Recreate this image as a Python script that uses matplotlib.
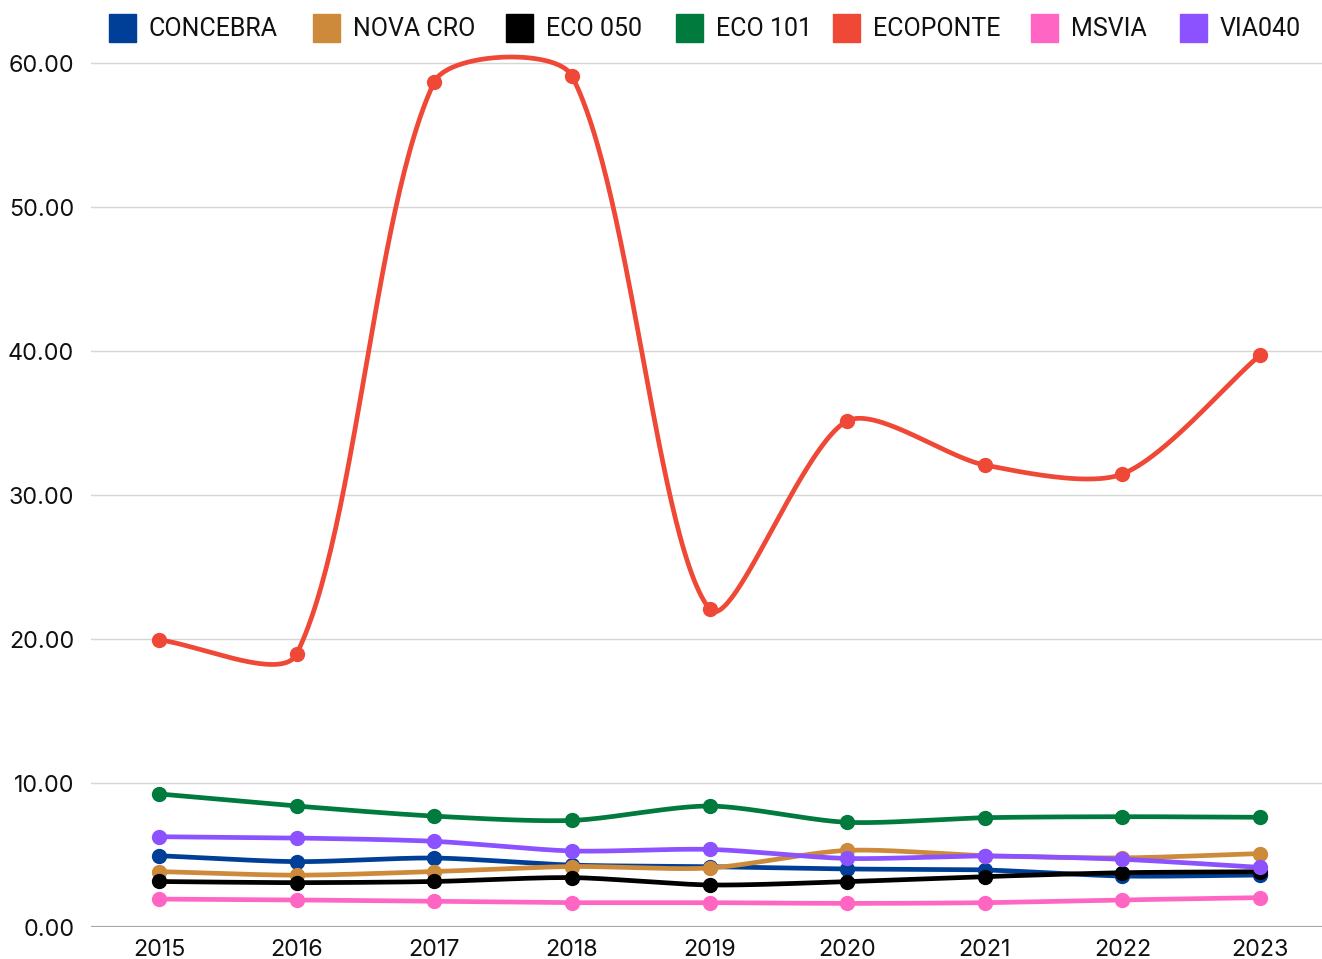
import numpy as np
import matplotlib
matplotlib.use("Agg")
import matplotlib.pyplot as plt
from matplotlib.patches import Rectangle
from matplotlib.ticker import FuncFormatter

years = ["2015", "2016", "2017", "2018", "2019", "2020", "2021", "2022", "2023"]
concebra = [4.95, 4.54, 4.79, 4.30, 4.19, 4.03, 3.96, 3.54, 3.61]
nova_cro = [3.85, 3.60, 3.85, 4.20, 4.10, 5.32, 4.95, 4.80, 5.10]
eco050 = [3.16, 3.08, 3.16, 3.43, 2.92, 3.15, 3.50, 3.77, 3.84]
eco101 = [9.24, 8.40, 7.70, 7.40, 8.40, 7.27, 7.59, 7.66, 7.62]
ecoponte = [19.93, 18.96, 58.68, 59.10, 22.08, 35.14, 32.08, 31.46, 39.72]
msvia = [1.94, 1.88, 1.78, 1.69, 1.69, 1.64, 1.69, 1.88, 2.04]
via040 = [6.27, 6.18, 5.95, 5.28, 5.39, 4.76, 4.93, 4.70, 4.14]

series_names = ["CONCEBRA", "NOVA CRO", "ECO 050", "ECO 101", "ECOPONTE", "MSVIA", "VIA040"]
series_values = [concebra, nova_cro, eco050, eco101, ecoponte, msvia, via040]
colors = ["#003f98", "#cc8a3a", "#000000", "#007a3d", "#ef4836", "#ff66c4", "#8c52ff"]

plt.rcParams['font.family'] = ['Inter', 'Roboto', 'DejaVu Sans']

W, H = 1322, 959
fig = plt.figure(figsize=(W / 100, H / 100), dpi=100)
ax = fig.add_axes([91 / W, 1 - 927 / H, (W - 91) / W, (927 - 40) / H])

x = np.arange(len(years))
ax.set_xlim(-0.494, len(years) - 1 + 0.45)
ax.set_ylim(0, (927 - 40) / 14.4)
ax.set_yticks([0, 10, 20, 30, 40, 50, 60])
ax.yaxis.set_major_formatter(FuncFormatter(lambda v, p: f"{v:.2f}"))
ax.set_xticks(x)
ax.set_xticklabels(years)
ax.tick_params(axis='both', length=0, labelsize=16.8, colors='#111111')
ax.tick_params(axis='y', pad=12)
ax.tick_params(axis='x', pad=9)
for s in ax.spines.values():
    s.set_visible(False)
for yv in [10, 20, 30, 40, 50, 60]:
    ax.axhline(yv, color='#d6d6d6', lw=1.0, zorder=0)
ax.axhline(0, color='#aaaaaa', lw=1.6, zorder=0)

fig.canvas.draw()
T = ax.transData
TI = T.inverted()


def spline(xs, ys, t=0.27, n=60):
    pts = T.transform(np.column_stack([xs, ys]))
    out = []
    m = len(pts)
    ctrl = []
    for i in range(m):
        prev = pts[i - 1] if i > 0 else pts[i]
        nxt = pts[i + 1] if i < m - 1 else pts[i]
        cur = pts[i]
        d01 = np.hypot(*(cur - prev))
        d12 = np.hypot(*(nxt - cur))
        tot = d01 + d12
        s01 = d01 / tot if tot else 0
        s12 = d12 / tot if tot else 0
        fa = t * s01
        fb = t * s12
        ctrl.append((cur - fa * (nxt - prev), cur + fb * (nxt - prev)))
    for i in range(m - 1):
        p0 = pts[i]
        p1 = ctrl[i][1]
        p2 = ctrl[i + 1][0]
        p3 = pts[i + 1]
        u = np.linspace(0, 1, n)[:, None]
        b = ((1 - u) ** 3) * p0 + 3 * ((1 - u) ** 2) * u * p1 + 3 * (1 - u) * u ** 2 * p2 + u ** 3 * p3
        out.append(b if i == 0 else b[1:])
    curve = TI.transform(np.vstack(out))
    return curve[:, 0], curve[:, 1]


for k, (name, vals, c) in enumerate(zip(series_names, series_values, colors)):
    cx, cy = spline(x, vals)
    ax.plot(cx, cy, color=c, lw=3.4, solid_capstyle='round', zorder=3 + k, clip_on=False)
    ax.plot(x, vals, 'o', color=c, ms=10, zorder=3 + k, clip_on=False)

# legend
sq_x = [109, 313, 506, 676, 833, 1031, 1180]
for name, c, sx in zip(series_names, colors, sq_x):
    fig.patches.append(Rectangle((sx / W, 1 - 42 / H), 27 / W, 28 / H,
                                 transform=fig.transFigure, color=c, figure=fig))
    fig.text((sx + 40) / W, 1 - 29 / H, name, fontsize=18, va='center', ha='left',
             color='#111111', family=['Roboto', 'DejaVu Sans'])

fig.savefig("out.png", dpi=100)
